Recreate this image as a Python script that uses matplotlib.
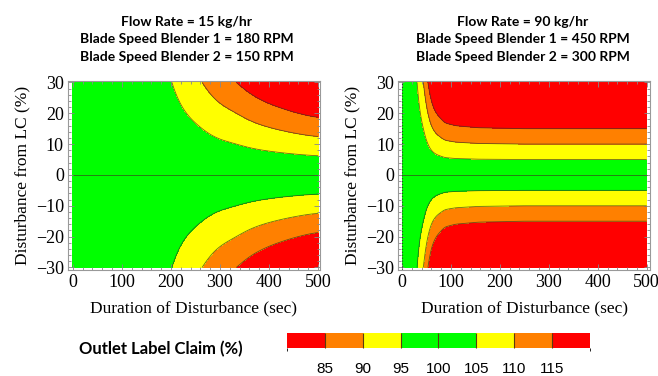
import numpy as np
import matplotlib
matplotlib.use("Agg")
import matplotlib.pyplot as plt
from matplotlib.colors import ListedColormap, BoundaryNorm
from matplotlib.ticker import MultipleLocator

# Gain of the label-claim response vs. duration of disturbance
# Outlet LC (%) = 100 + disturbance * gain(duration)
t_left = [0, 140, 170, 203, 225, 260, 293, 335, 361, 395, 429, 465, 500]
g_left = [0.02, 0.02, 0.08, 0.167, 0.236, 0.32, 0.42, 0.50, 0.57, 0.64, 0.70, 0.76, 0.81]

t_right = [0, 18, 31, 44, 54, 62, 70, 88, 110, 156, 250, 500]
g_right = [0.02, 0.02, 0.167, 0.333, 0.52, 0.66, 0.75, 0.89, 0.94, 0.98, 1.0, 1.0]

titles_left = ["Flow Rate = 15 kg/hr",
               "Blade Speed Blender 1 = 180 RPM",
               "Blade Speed Blender 2 = 150 RPM"]
titles_right = ["Flow Rate = 90 kg/hr",
                "Blade Speed Blender 1 = 450 RPM",
                "Blade Speed Blender 2 = 300 RPM"]

levels = [80, 85, 90, 95, 100, 105, 110, 115, 120]
cb_ticks = [85, 90, 95, 100, 105, 110, 115]
band_colors = ["#ff0000", "#ff8000", "#ffff00", "#00ff00",
               "#00ff00", "#ffff00", "#ff8000", "#ff0000"]

serif = "Liberation Serif"
sans = "Liberation Sans"
title_font = "Lato"


def smooth_gain(t, t_pts, g_pts, sigma):
    # piecewise-linear gain, softened so the contour bands have no corners
    g = np.interp(t, t_pts, g_pts)
    step = t[1] - t[0]
    n = int(4 * sigma / step)
    k = np.exp(-0.5 * (np.arange(-n, n + 1) * step / sigma) ** 2)
    k /= k.sum()
    gp = np.pad(g, n, mode="edge")
    return np.convolve(gp, k, mode="valid")


def draw_panel(ax, t_pts, g_pts, sigma, xlim):
    t = np.linspace(0, 500, 1001)
    d = np.linspace(-30, 30, 601)
    g = smooth_gain(t, t_pts, g_pts, sigma)
    T, D = np.meshgrid(t, d)
    G = np.tile(g, (len(d), 1))
    lc = np.clip(100 + D * G, 80.01, 119.99)

    ax.contourf(T, D, lc, levels=levels, colors=band_colors)
    ax.contour(T, D, lc, levels=cb_ticks, colors="#3a3a20", linewidths=0.6, alpha=0.75)

    ax.set_xlim(*xlim)
    ax.set_ylim(-30.8, 30.5)
    ax.set_xticks([0, 100, 200, 300, 400, 500])
    ax.set_yticks([-30, -20, -10, 0, 10, 20, 30])
    ax.set_yticklabels(["\u221230", "\u221220", "\u221210", "0", "10", "20", "30"])
    ax.xaxis.set_minor_locator(MultipleLocator(20))
    ax.yaxis.set_minor_locator(MultipleLocator(2))
    ax.tick_params(which="both", direction="in", top=True, right=True,
                   color="#888888", width=0.6, labelsize=13, pad=3)
    ax.tick_params(which="major", length=4)
    ax.tick_params(which="minor", length=2)
    for lab in ax.get_xticklabels() + ax.get_yticklabels():
        lab.set_fontfamily(serif)
    for sp in ax.spines.values():
        sp.set_color("#999999")
        sp.set_linewidth(0.8)

    ax.set_xlabel("Duration of Disturbance (sec)", fontfamily=serif, fontsize=12.5)
    ax.set_ylabel("Disturbance from LC (%)", fontfamily=serif, fontsize=12.5)
    ax.xaxis.set_label_coords(0.5, -0.16)
    ax.yaxis.set_label_coords(-0.15, 0.5)


fig = plt.figure(figsize=(6.58, 3.76), dpi=100)

ax1 = fig.add_axes([0.1033, 0.282, 0.383, 0.503])
draw_panel(ax1, t_left, g_left, 14, (-10, 504))

ax2 = fig.add_axes([0.605, 0.282, 0.383, 0.503])
draw_panel(ax2, t_right, g_right, 3, (-8, 507))
ax2.axvline(0, color="#333333", linestyle=":", linewidth=0.8)

for x, lines in [(0.284, titles_left), (0.795, titles_right)]:
    for y, line in zip([0.9415, 0.895, 0.8476], lines):
        fig.text(x, y, line, ha="center", va="center", fontsize=10,
                 fontweight="bold", fontfamily=title_font)

# colour legend bar
cax = fig.add_axes([0.436, 0.0745, 0.4605, 0.04])
cmap = ListedColormap(band_colors)
norm = BoundaryNorm(levels, cmap.N)
cb = fig.colorbar(plt.cm.ScalarMappable(norm=norm, cmap=cmap), cax=cax,
                  orientation="horizontal", ticks=cb_ticks, drawedges=True)
cb.outline.set_visible(False)
cb.dividers.set_color("#5a3a10")
cb.dividers.set_linewidth(0.8)
cax.tick_params(length=0, pad=10, labelsize=11)
for lab in cax.get_xticklabels():
    lab.set_fontfamily(sans)

fig.text(0.245, 0.072, "Outlet Label Claim (%)", ha="center", va="center",
         fontsize=12, fontweight="bold", fontfamily=title_font)

fig.savefig("out.png", dpi=100)
